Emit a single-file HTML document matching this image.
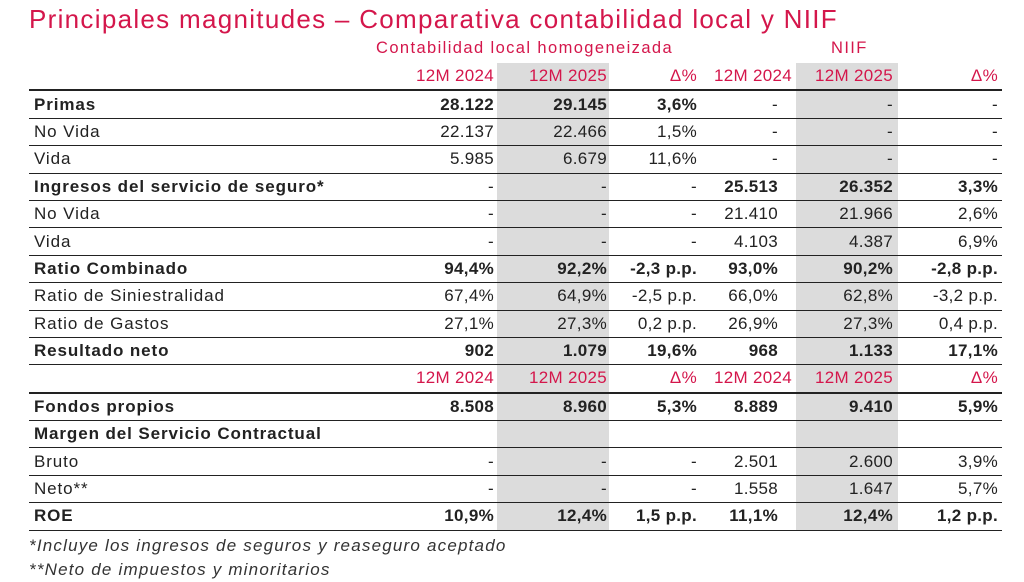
<!DOCTYPE html>
<html><head><meta charset="utf-8"><style>
body{margin:0;width:1024px;height:582px;background:#fff;font-family:"Liberation Sans",sans-serif;color:#222;position:relative;overflow:hidden}
.t{position:absolute;left:29px;top:4px;font-size:26px;letter-spacing:1.3px;color:#d4164b;white-space:nowrap}
.h{position:absolute;top:39px;font-size:16.5px;letter-spacing:1.4px;color:#d4164b;white-space:nowrap}
table{position:absolute;left:29px;top:63px;border-collapse:collapse;font-size:17px;table-layout:fixed}
td{height:26.4px;padding:0;text-align:right;white-space:nowrap;border-bottom:1.5px solid #222;line-height:26px;letter-spacing:0.3px}
td:first-child{text-align:left;padding-left:5px;letter-spacing:0.9px}
td.s{background:#dcdcdc}
tr.hd td{color:#d4164b;border-bottom:2.5px solid #222}
tr.b td{font-weight:bold}
td.c1{padding-right:3px}td.c2{padding-right:2px}td.c3{padding-right:3px}td.c4{padding-right:18px}td.c5{padding-right:5px}td.c6{padding-right:4px}
.f{position:absolute;left:29px;font-size:17px;letter-spacing:1.2px;font-style:italic;color:#333}
</style></head><body>
<div class="t">Principales magnitudes – Comparativa contabilidad local y NIIF</div>
<div class="h" style="left:376px">Contabilidad local homogeneizada</div>
<div class="h" style="left:831px">NIIF</div>
<table>
<colgroup><col style="width:386px"><col style="width:82px"><col style="width:112px"><col style="width:91px"><col style="width:96px"><col style="width:102px"><col style="width:104px"></colgroup>
<tr class="hd"><td></td><td class="c1">12M 2024</td><td class="c2 s">12M 2025</td><td class="c3">Δ%</td><td class="c4" style="padding-right:4px">12M 2024</td><td class="c5 s">12M 2025</td><td class="c6">Δ%</td></tr>
<tr class="b"><td>Primas</td><td class="c1">28.122</td><td class="c2 s">29.145</td><td class="c3">3,6%</td><td class="c4" style="font-weight:normal">-</td><td class="c5 s" style="font-weight:normal">-</td><td class="c6" style="font-weight:normal">-</td></tr>
<tr><td>No Vida</td><td class="c1">22.137</td><td class="c2 s">22.466</td><td class="c3">1,5%</td><td class="c4">-</td><td class="c5 s">-</td><td class="c6">-</td></tr>
<tr><td>Vida</td><td class="c1">5.985</td><td class="c2 s">6.679</td><td class="c3">11,6%</td><td class="c4">-</td><td class="c5 s">-</td><td class="c6">-</td></tr>
<tr class="b"><td>Ingresos del servicio de seguro*</td><td class="c1" style="font-weight:normal">-</td><td class="c2 s" style="font-weight:normal">-</td><td class="c3" style="font-weight:normal">-</td><td class="c4">25.513</td><td class="c5 s">26.352</td><td class="c6">3,3%</td></tr>
<tr><td>No Vida</td><td class="c1">-</td><td class="c2 s">-</td><td class="c3">-</td><td class="c4">21.410</td><td class="c5 s">21.966</td><td class="c6">2,6%</td></tr>
<tr><td>Vida</td><td class="c1">-</td><td class="c2 s">-</td><td class="c3">-</td><td class="c4">4.103</td><td class="c5 s">4.387</td><td class="c6">6,9%</td></tr>
<tr class="b"><td>Ratio Combinado</td><td class="c1">94,4%</td><td class="c2 s">92,2%</td><td class="c3">-2,3 p.p.</td><td class="c4">93,0%</td><td class="c5 s">90,2%</td><td class="c6">-2,8 p.p.</td></tr>
<tr><td>Ratio de Siniestralidad</td><td class="c1">67,4%</td><td class="c2 s">64,9%</td><td class="c3">-2,5 p.p.</td><td class="c4">66,0%</td><td class="c5 s">62,8%</td><td class="c6">-3,2 p.p.</td></tr>
<tr><td>Ratio de Gastos</td><td class="c1">27,1%</td><td class="c2 s">27,3%</td><td class="c3">0,2 p.p.</td><td class="c4">26,9%</td><td class="c5 s">27,3%</td><td class="c6">0,4 p.p.</td></tr>
<tr class="b"><td>Resultado neto</td><td class="c1">902</td><td class="c2 s">1.079</td><td class="c3">19,6%</td><td class="c4">968</td><td class="c5 s">1.133</td><td class="c6">17,1%</td></tr>
<tr class="hd"><td></td><td class="c1">12M 2024</td><td class="c2 s">12M 2025</td><td class="c3">Δ%</td><td class="c4" style="padding-right:4px">12M 2024</td><td class="c5 s">12M 2025</td><td class="c6">Δ%</td></tr>
<tr class="b"><td>Fondos propios</td><td class="c1">8.508</td><td class="c2 s">8.960</td><td class="c3">5,3%</td><td class="c4">8.889</td><td class="c5 s">9.410</td><td class="c6">5,9%</td></tr>
<tr class="b"><td>Margen del Servicio Contractual</td><td class="c1"></td><td class="c2 s"></td><td class="c3"></td><td class="c4"></td><td class="c5 s"></td><td class="c6"></td></tr>
<tr><td>Bruto</td><td class="c1">-</td><td class="c2 s">-</td><td class="c3">-</td><td class="c4">2.501</td><td class="c5 s">2.600</td><td class="c6">3,9%</td></tr>
<tr><td>Neto**</td><td class="c1">-</td><td class="c2 s">-</td><td class="c3">-</td><td class="c4">1.558</td><td class="c5 s">1.647</td><td class="c6">5,7%</td></tr>
<tr class="b"><td>ROE</td><td class="c1">10,9%</td><td class="c2 s">12,4%</td><td class="c3">1,5 p.p.</td><td class="c4">11,1%</td><td class="c5 s">12,4%</td><td class="c6">1,2 p.p.</td></tr>
</table>
<div class="f" style="top:536px">*Incluye los ingresos de seguros y reaseguro aceptado</div>
<div class="f" style="top:560px">**Neto de impuestos y minoritarios</div>
</body></html>
